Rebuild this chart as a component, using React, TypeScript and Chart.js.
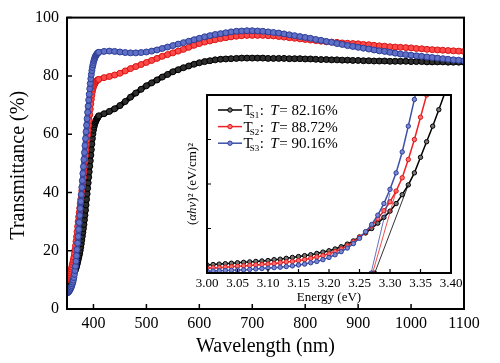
import React, { useEffect, useRef } from 'react';
import { Chart, registerables } from 'chart.js';

Chart.register(...registerables);

const FONT = '"Liberation Serif", "Times New Roman", serif';

const range = (a: number, b: number, s: number) => {
  const out: number[] = [];
  const n = Math.round((b - a) / s);
  for (let i = 0; i <= n; i++) out.push(+(a + i * s).toFixed(3));
  return out;
};

// ---- main chart: transmittance vs wavelength ----
const edgeNm = range(350, 410, 1);
const bodyNm = range(420, 1100, 10);
const xTickLabels = [400, 500, 600, 700, 800, 900, 1000, 1100];
const yTickLabels = [0, 20, 40, 60, 80, 100];

const s1Edge = [
  9.3, 9.5, 9.7, 9.9, 10.1, 10.3, 10.5, 10.7, 11.0, 11.3,
  11.6, 11.9, 12.2, 12.5, 12.8, 13.1, 13.5, 14.0, 14.6, 15.3,
  16.0, 16.8, 17.6, 18.4, 19.2, 20.1, 21.2, 22.4, 23.7, 25.0,
  26.3, 27.6, 29.0, 30.6, 32.2, 33.9, 35.7, 37.6, 39.5, 41.4,
  43.3, 45.2, 47.1, 49.0, 50.9, 52.8, 54.7, 56.6, 58.5, 60.1,
  61.4, 62.4, 63.2, 63.8, 64.3, 64.7, 65.1, 65.4, 65.7, 66.0,
  66.3,
];
const s1Body = [
  67.0, 67.8, 68.7, 69.8, 71.2, 72.7, 74.1, 75.4, 76.6,
  77.6, 78.6, 79.6, 80.5, 81.4, 82.1, 82.8, 83.4, 84.0, 84.5,
  84.9, 85.2, 85.5, 85.7, 85.8, 85.9, 86.0, 86.1, 86.1, 86.1,
  86.1, 86.1, 86.0, 86.0, 86.0, 86.0, 85.9, 85.9, 85.9, 85.8,
  85.8, 85.7, 85.6, 85.6, 85.5, 85.5, 85.4, 85.4, 85.3, 85.3,
  85.2, 85.2, 85.1, 85.1, 85.1, 85.0, 85.0, 85.0, 85.0, 84.9,
  84.9, 84.9, 84.8, 84.8, 84.8, 84.8, 84.7, 84.7, 84.7, 84.7,
];
const s2Edge = [
  10.0, 10.2, 10.5, 10.9, 11.3, 11.8, 12.4, 13.0, 13.7, 14.4,
  15.2, 16.0, 16.8, 17.8, 19.0, 20.3, 21.7, 23.2, 24.8, 26.5,
  28.3, 30.0, 31.6, 33.1, 34.6, 36.1, 37.6, 39.1, 40.6, 42.1,
  43.6, 45.1, 46.9, 48.8, 50.7, 52.6, 54.5, 56.3, 58.0, 59.7,
  61.3, 63.0, 64.8, 66.7, 68.6, 70.4, 72.0, 73.4, 74.6, 75.5,
  76.2, 76.7, 77.1, 77.5, 77.8, 78.1, 78.3, 78.5, 78.6, 78.7,
  78.8,
];
const s2Body = [
  79.4, 79.8, 80.3, 80.9, 81.7, 82.5, 83.2, 83.9, 84.6,
  85.3, 86.0, 86.7, 87.3, 87.9, 88.5, 89.1, 89.8, 90.5, 91.1,
  91.6, 92.0, 92.4, 92.8, 93.1, 93.4, 93.6, 93.8, 93.9, 93.9,
  93.9, 93.9, 93.8, 93.7, 93.5, 93.3, 93.1, 92.9, 92.7, 92.5,
  92.3, 92.1, 91.9, 91.7, 91.6, 91.5, 91.3, 91.2, 91.1, 91.0,
  90.8, 90.7, 90.5, 90.3, 90.2, 90.0, 89.9, 89.8, 89.7, 89.6,
  89.4, 89.3, 89.1, 89.0, 88.9, 88.8, 88.7, 88.6, 88.5, 88.4,
];
const s3Edge = [
  5.5, 5.6, 5.7, 5.9, 6.1, 6.4, 6.7, 7.1, 7.5, 8.0,
  8.6, 9.2, 9.9, 10.8, 11.9, 13.2, 14.7, 16.4, 18.3, 20.4,
  22.6, 24.9, 27.3, 29.7, 32.1, 34.5, 36.9, 39.3, 41.7, 44.1,
  46.5, 48.9, 51.3, 53.7, 56.1, 58.5, 60.8, 63.1, 65.3, 67.5,
  69.6, 71.7, 73.7, 75.6, 77.4, 79.0, 80.5, 81.8, 82.9, 83.8,
  84.6, 85.3, 85.9, 86.4, 86.8, 87.1, 87.4, 87.6, 87.8, 88.0,
  88.1,
];
const s3Body = [
  88.4, 88.5, 88.4, 88.2, 88.0, 87.9, 87.9, 88.0, 88.2,
  88.5, 88.9, 89.4, 89.9, 90.4, 90.9, 91.4, 91.9, 92.4, 92.9,
  93.4, 93.8, 94.2, 94.5, 94.8, 95.1, 95.3, 95.4, 95.5, 95.5,
  95.4, 95.3, 95.1, 94.9, 94.7, 94.4, 94.1, 93.8, 93.5, 93.2,
  92.9, 92.5, 92.2, 91.8, 91.5, 91.1, 90.8, 90.4, 90.1, 89.8,
  89.5, 89.2, 88.9, 88.6, 88.4, 88.1, 87.8, 87.5, 87.3, 87.1,
  86.9, 86.7, 86.5, 86.3, 86.1, 85.9, 85.7, 85.5, 85.4, 85.2,
];

// ---- inset: (αhν)² vs energy ----
const energyEv = range(3.0, 3.4, 0.01);
const insetXTicks = [3.0, 3.05, 3.1, 3.15, 3.2, 3.25, 3.3, 3.35, 3.4];
const tauc1 = [
  0.18, 0.19, 0.20, 0.21, 0.22, 0.23, 0.24, 0.25, 0.26, 0.27,
  0.28, 0.30, 0.31, 0.33, 0.35, 0.37, 0.39, 0.41, 0.44, 0.47,
  0.50, 0.54, 0.59, 0.65, 0.72, 0.81, 0.90, 1.00, 1.12, 1.25,
  1.39, 1.56, 1.76, 1.98, 2.25, 2.60, 2.95, 3.30, 3.67, 4.05,
  4.40,
];
const tauc2 = [
  0.11, 0.115, 0.12, 0.13, 0.14, 0.15, 0.16, 0.17, 0.18, 0.19,
  0.20, 0.21, 0.23, 0.25, 0.26, 0.28, 0.30, 0.33, 0.36, 0.39,
  0.43, 0.48, 0.54, 0.61, 0.70, 0.80, 0.92, 1.06, 1.22, 1.40,
  1.60, 1.84, 2.14, 2.55, 3.00, 3.50, 4.00, 4.50, null, null,
  null,
];
const tauc3 = [
  0.04, 0.045, 0.05, 0.055, 0.06, 0.065, 0.07, 0.08, 0.09, 0.10,
  0.11, 0.12, 0.13, 0.145, 0.16, 0.18, 0.20, 0.23, 0.26, 0.30,
  0.35, 0.41, 0.48, 0.56, 0.66, 0.78, 0.93, 1.09, 1.30, 1.56,
  1.88, 2.25, 2.72, 3.30, 3.90, 4.50, null, null, null, null,
  null,
];
const tangent1 = [[3.275, 0.0], [3.33, 1.98]];
const tangent2 = [[3.2715, 0.0], [3.31, 1.84]];
const tangent3 = [[3.269, 0.0], [3.30, 1.80]];

const legendNames = ['S1', 'S2', 'S3'];
const legendValues = ['82.16%', '88.72%', '90.16%'];

const COLORS = {
  s1: { line: '#000000', fill: '#2e2e2e', border: '#000000', light: '#777777' },
  s2: { line: '#ee2226', fill: '#ff4a4a', border: '#d81818', light: '#ff7070' },
  s3: { line: '#3d50a8', fill: '#6070c6', border: '#2f3f98', light: '#7b89d2' },
};

const toXY = (xs: number[], ys: (number | null)[]) => xs.map((x, i) => ({ x, y: ys[i] }));

const framePlugin = {
  id: 'frame',
  afterDraw(chart: any, _args: any, opts: any) {
    const { ctx, chartArea: a } = chart;
    ctx.save();
    ctx.strokeStyle = '#000';
    ctx.lineWidth = opts.lineWidth;
    ctx.strokeRect(a.left, a.top, a.right - a.left, a.bottom - a.top);
    ctx.lineWidth = opts.tickWidth;
    ctx.beginPath();
    const xs = chart.scales.x;
    const ys = chart.scales.y;
    xs.ticks.forEach((t: any) => {
      const px = xs.getPixelForValue(t.value);
      ctx.moveTo(px, a.bottom);
      ctx.lineTo(px, a.bottom - opts.tickLen);
    });
    ys.ticks.forEach((t: any) => {
      const py = ys.getPixelForValue(t.value);
      ctx.moveTo(a.left, py);
      ctx.lineTo(a.left + opts.tickLen, py);
    });
    ctx.stroke();
    ctx.restore();
  },
};

const mainTitles = {
  id: 'mainTitles',
  afterDraw(chart: any) {
    const { ctx, chartArea: a } = chart;
    ctx.save();
    ctx.fillStyle = '#000';
    ctx.font = `20px ${FONT}`;
    ctx.textAlign = 'center';
    ctx.textBaseline = 'middle';
    ctx.fillText('Wavelength (nm)', (a.left + a.right) / 2, a.bottom + 38);
    ctx.translate(a.left - 48, (a.top + a.bottom) / 2 + 2);
    ctx.rotate(-Math.PI / 2);
    ctx.fillText('Transmittance (%)', 0, 0);
    ctx.restore();
  },
};

const drawSegments = (ctx: any, segs: [string, string, number][], x: number, y: number) => {
  let cx = x;
  segs.forEach(([text, font, dy]) => {
    ctx.font = font;
    ctx.fillText(text, cx, y + dy);
    cx += ctx.measureText(text).width;
  });
};
const measureSegments = (ctx: any, segs: [string, string, number][]) => {
  let w = 0;
  segs.forEach(([text, font]) => {
    ctx.font = font;
    w += ctx.measureText(text).width;
  });
  return w;
};

const insetDecor = {
  id: 'insetDecor',
  beforeDraw(chart: any) {
    const { ctx, chartArea: a } = chart;
    ctx.save();
    ctx.fillStyle = '#fff';
    ctx.fillRect(a.left, a.top, a.right - a.left, a.bottom - a.top);
    ctx.restore();
  },
  afterDraw(chart: any) {
    const { ctx, chartArea: a } = chart;
    ctx.save();
    ctx.fillStyle = '#000';
    ctx.textBaseline = 'alphabetic';
    // x title
    ctx.font = `13px ${FONT}`;
    ctx.textAlign = 'center';
    ctx.fillText('Energy (eV)', (a.left + a.right) / 2, a.bottom + 28);
    // y title
    ctx.textAlign = 'left';
    const n = `13px ${FONT}`;
    const it = `italic 13px ${FONT}`;
    const ySegs: [string, string, number][] = [
      ['(', n, 0], ['αhν', it, 0], [')²', n, 0], [' (eV/cm)²', n, 0],
    ];
    ctx.save();
    ctx.translate(a.left - 16, (a.top + a.bottom) / 2);
    ctx.rotate(-Math.PI / 2);
    const w = measureSegments(ctx, ySegs);
    drawSegments(ctx, ySegs, -w / 2, 4.5);
    ctx.restore();
    // legend
    const cols = [COLORS.s1, COLORS.s2, COLORS.s3];
    legendNames.forEach((name, i) => {
      const y = a.top + 15 + i * 16.6;
      const c = cols[i];
      ctx.strokeStyle = c.line;
      ctx.lineWidth = 1.5;
      ctx.beginPath();
      ctx.moveTo(a.left + 11, y);
      ctx.lineTo(a.left + 35, y);
      ctx.stroke();
      ctx.beginPath();
      ctx.arc(a.left + 23, y, 2.2, 0, Math.PI * 2);
      ctx.fillStyle = c.light;
      ctx.fill();
      ctx.lineWidth = 1;
      ctx.strokeStyle = c.border;
      ctx.stroke();
      ctx.fillStyle = '#000';
      const base = y + 5;
      let x = a.left + 36.5;
      ctx.font = `15px ${FONT}`;
      ctx.fillText('T', x, base);
      x += ctx.measureText('T').width - 3;
      ctx.font = `9px ${FONT}`;
      ctx.fillText(name, x, base + 3);
      x += ctx.measureText(name).width + 0.5;
      ctx.font = `15px ${FONT}`;
      ctx.fillText(':', x, base);
      x += ctx.measureText(':').width + 6.5;
      ctx.font = `italic 15px ${FONT}`;
      ctx.fillText('T', x, base);
      x += ctx.measureText('T').width + 0.5;
      ctx.font = `15px ${FONT}`;
      ctx.fillText('= ' + legendValues[i], x, base);
    });
    ctx.restore();
  },
};

const mainSeries = (edge: number[], body: number[], c: any) => ({
  data: [...toXY(edgeNm, edge), ...toXY(bodyNm, body)],
  borderColor: c.line,
  borderWidth: 5,
  pointRadius: 3,
  pointBorderWidth: 1,
  pointBackgroundColor: c.fill,
  pointBorderColor: c.border,
  tension: 0.3,
});

const insetSeries = (ys: (number | null)[], c: any) => ({
  data: toXY(energyEv, ys),
  borderColor: c.line,
  borderWidth: 1.5,
  pointRadius: 2.2,
  pointBorderWidth: 1,
  pointBackgroundColor: c.light,
  pointBorderColor: c.border,
  tension: 0,
});

const tangentSeries = (pts: number[][], c: any) => ({
  data: pts.map(([x, y]) => ({ x, y })),
  borderColor: c.line,
  borderWidth: 0.8,
  pointRadius: (ctx: any) => (ctx.dataIndex === 0 ? 2 : 0),
  pointBorderWidth: 1,
  pointBackgroundColor: c.light,
  pointBorderColor: c.border,
  tension: 0,
});

export default function App() {
  const mainRef = useRef<HTMLCanvasElement>(null);
  const insetRef = useRef<HTMLCanvasElement>(null);

  useEffect(() => {
    const main = new Chart(mainRef.current as HTMLCanvasElement, {
      type: 'line',
      data: {
        datasets: [
          mainSeries(s3Edge, s3Body, COLORS.s3),
          mainSeries(s2Edge, s2Body, COLORS.s2),
          mainSeries(s1Edge, s1Body, COLORS.s1),
        ] as any,
      },
      options: {
        animation: false,
        responsive: false,
        devicePixelRatio: 1,
        layout: { padding: { left: 0, top: 16, right: 36, bottom: 0 } },
        plugins: {
          legend: { display: false },
          tooltip: { enabled: false },
          frame: { lineWidth: 2, tickWidth: 1.5, tickLen: 5 },
        } as any,
        scales: {
          x: {
            type: 'linear',
            min: 350,
            max: 1100,
            ticks: {
              stepSize: 100,
              color: '#000',
              font: { family: FONT, size: 16 },
              padding: 5,
              maxRotation: 0,
              autoSkip: false,
              callback: (v: any) => String(v),
            },
            grid: { display: false, drawTicks: false },
            border: { display: false },
            afterBuildTicks: (s: any) => {
              s.ticks = xTickLabels.map((v) => ({ value: v }));
            },
            afterFit: (s: any) => {
              s.height = 54;
            },
          },
          y: {
            type: 'linear',
            min: 0,
            max: 100,
            ticks: { stepSize: 20, color: '#000', font: { family: FONT, size: 16 }, padding: 8, callback: (v: any) => String(v) },
            grid: { display: false, drawTicks: false },
            border: { display: false },
            afterBuildTicks: (s: any) => {
              s.ticks = yTickLabels.map((v) => ({ value: v }));
            },
            afterFit: (s: any) => {
              s.width = 67;
            },
          },
        },
      } as any,
      plugins: [framePlugin, mainTitles],
    });

    const inset = new Chart(insetRef.current as HTMLCanvasElement, {
      type: 'line',
      data: {
        datasets: [
          tangentSeries(tangent3, COLORS.s3),
          tangentSeries(tangent2, COLORS.s2),
          tangentSeries(tangent1, COLORS.s1),
          insetSeries(tauc3, COLORS.s3),
          insetSeries(tauc2, COLORS.s2),
          insetSeries(tauc1, COLORS.s1),
        ] as any,
      },
      options: {
        animation: false,
        responsive: false,
        devicePixelRatio: 1,
        layout: { padding: { left: 187, top: 95, right: 49, bottom: 0 } },
        plugins: {
          legend: { display: false },
          tooltip: { enabled: false },
          frame: { lineWidth: 2, tickWidth: 1.2, tickLen: 4 },
        } as any,
        scales: {
          x: {
            type: 'linear',
            min: 3.0,
            max: 3.4,
            ticks: {
              color: '#000',
              font: { family: FONT, size: 13 },
              padding: 3,
              maxRotation: 0,
              autoSkip: false,
              callback: (v: any) => Number(v).toFixed(2),
            },
            grid: { display: false, drawTicks: false },
            border: { display: false },
            afterBuildTicks: (s: any) => {
              s.ticks = insetXTicks.map((v) => ({ value: v }));
            },
            afterFit: (s: any) => {
              s.height = 90;
            },
          },
          y: {
            type: 'linear',
            min: 0,
            max: 4,
            ticks: { display: false, stepSize: 1 },
            grid: { display: false, drawTicks: false },
            border: { display: false },
            afterFit: (s: any) => {
              s.width = 20;
            },
          },
        },
      } as any,
      plugins: [insetDecor, framePlugin],
    });

    return () => {
      main.destroy();
      inset.destroy();
    };
  }, []);

  return (
    <div style={{ position: 'absolute', left: 0, top: 0, width: 500, height: 363, background: '#fff' }}>
      <canvas ref={mainRef} width={500} height={363} style={{ position: 'absolute', left: 0, top: 0 }} />
      <canvas ref={insetRef} width={500} height={363} style={{ position: 'absolute', left: 0, top: 0 }} />
    </div>
  );
}
